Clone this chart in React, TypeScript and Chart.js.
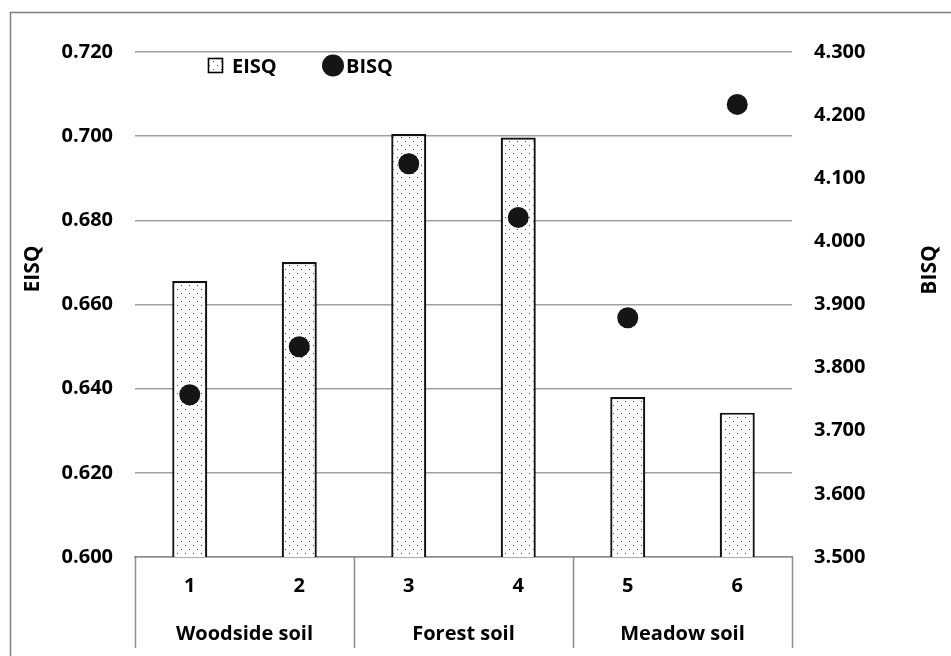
import { useEffect, useRef } from 'react';
import { Chart, registerables } from 'chart.js';

Chart.register(...registerables);

const categories = ['1', '2', '3', '4', '5', '6'];
const eisqValues = [0.6656, 0.6701, 0.7005, 0.6997, 0.638, 0.6343];
const bisqValues = [3.757, 3.833, 4.123, 4.038, 3.879, 4.217];
const groupNames = ['Woodside soil', 'Forest soil', 'Meadow soil'];
const groupSizes = [2, 2, 2];
const eisqTicks = [0.6, 0.62, 0.64, 0.66, 0.68, 0.7, 0.72];
const bisqTicks = [3.5, 3.6, 3.7, 3.8, 3.9, 4.0, 4.1, 4.2, 4.3];
const legendLabels = ['EISQ', 'BISQ'];
const axisTitles = ['EISQ', 'BISQ'];

const FONT = '"Open Sans"';
const W = 951;
const H = 656;

function makePattern(): CanvasPattern | string {
  const c = document.createElement('canvas');
  c.width = 8;
  c.height = 8;
  const g = c.getContext('2d');
  if (!g) return '#fff';
  g.fillStyle = '#ffffff';
  g.fillRect(0, 0, 8, 8);
  g.fillStyle = '#444444';
  g.fillRect(1, 1, 1, 1);
  g.fillRect(5, 5, 1, 1);
  const p = g.createPattern(c, 'repeat');
  return p || '#fff';
}

export default function App() {
  const ref = useRef<HTMLCanvasElement | null>(null);

  useEffect(() => {
    if (!ref.current) return;
    const pattern = makePattern();

    const decor = {
      id: 'decor',
      beforeDraw(chart: any) {
        const ctx = chart.ctx;
        ctx.save();
        ctx.fillStyle = '#ffffff';
        ctx.fillRect(0, 0, W, H);
        ctx.strokeStyle = '#808080';
        ctx.lineWidth = 1.5;
        ctx.beginPath();
        ctx.moveTo(10.5, H);
        ctx.lineTo(10.5, 12.5);
        ctx.lineTo(W, 12.5);
        ctx.stroke();
        ctx.restore();
      },
      afterDraw(chart: any) {
        const { ctx, chartArea, scales } = chart;
        const x = scales.x;
        ctx.save();
        const bounds: number[] = [chartArea.left];
        let idx = 0;
        groupSizes.forEach((s) => {
          idx += s;
          if (idx >= categories.length) bounds.push(chartArea.right);
          else bounds.push((x.getPixelForTick(idx - 1) + x.getPixelForTick(idx)) / 2);
        });
        ctx.strokeStyle = '#8c8c8c';
        ctx.lineWidth = 1.5;
        bounds.forEach((b) => {
          ctx.beginPath();
          ctx.moveTo(Math.round(b) + 0.5, chartArea.bottom);
          ctx.lineTo(Math.round(b) + 0.5, 648);
          ctx.stroke();
        });
        ctx.fillStyle = '#000';
        ctx.font = `bold 20px ${FONT}`;
        ctx.textAlign = 'center';
        ctx.textBaseline = 'alphabetic';
        groupNames.forEach((name, i) => {
          ctx.fillText(name, (bounds[i] + bounds[i + 1]) / 2, 640);
        });
        ctx.font = `bold 21px ${FONT}`;
        ctx.textBaseline = 'middle';
        ctx.save();
        ctx.translate(33, 269);
        ctx.rotate(-Math.PI / 2);
        ctx.fillText(axisTitles[0], 0, 0);
        ctx.restore();
        ctx.save();
        ctx.translate(930, 270);
        ctx.rotate(-Math.PI / 2);
        ctx.fillText(axisTitles[1], 0, 0);
        ctx.restore();
        ctx.fillStyle = pattern as any;
        ctx.fillRect(208, 58, 15, 15);
        ctx.strokeStyle = '#000';
        ctx.lineWidth = 1.6;
        ctx.strokeRect(208.5, 58.5, 14, 14);
        ctx.fillStyle = '#000';
        ctx.font = `bold 20px ${FONT}`;
        ctx.textAlign = 'left';
        ctx.textBaseline = 'alphabetic';
        ctx.fillText(legendLabels[0], 232, 73);
        ctx.fillStyle = '#151515';
        ctx.beginPath();
        ctx.arc(333, 65.5, 11, 0, Math.PI * 2);
        ctx.fill();
        ctx.fillStyle = '#000';
        ctx.fillText(legendLabels[1], 346, 73);
        ctx.restore();
      },
    };

    const tickFont = { family: FONT, size: 20, weight: 'bold' };

    const chart = new Chart(ref.current, {
      type: 'bar',
      data: {
        labels: categories,
        datasets: [
          {
            type: 'bar',
            label: legendLabels[0],
            data: eisqValues,
            yAxisID: 'y',
            backgroundColor: pattern as any,
            borderColor: '#111111',
            borderWidth: 2.2,
            barPercentage: 0.32,
            categoryPercentage: 1,
            order: 1,
          },
          {
            type: 'line',
            label: legendLabels[1],
            data: bisqValues,
            yAxisID: 'y1',
            showLine: false,
            pointRadius: 10.5,
            pointBackgroundColor: '#151515',
            pointBorderColor: '#151515',
            pointBorderWidth: 0,
            order: 0,
          } as any,
        ],
      },
      options: {
        responsive: false,
        animation: false,
        layout: { padding: { top: 52, left: 0, right: 0, bottom: 0 } },
        plugins: {
          legend: { display: false },
          tooltip: { enabled: false },
        },
        scales: {
          x: {
            offset: true,
            grid: { display: false, drawTicks: false },
            border: { display: true, color: '#8c8c8c', width: 1.5 },
            ticks: { color: '#000', font: tickFont, padding: 17 },
            afterFit(scale: any) {
              scale.height = 99;
            },
          },
          y: {
            position: 'left',
            min: 0.6,
            max: 0.72,
            afterBuildTicks(scale: any) {
              scale.ticks = eisqTicks.map((v) => ({ value: v }));
            },
            grid: { color: '#a0a0a0', lineWidth: 1.5, drawTicks: false },
            border: { display: false },
            ticks: {
              color: '#000',
              font: tickFont,
              padding: 22,
              callback: (v: any) => Number(v).toFixed(3),
            },
            afterFit(scale: any) {
              scale.width = 135;
            },
          },
          y1: {
            position: 'right',
            min: 3.5,
            max: 4.3,
            afterBuildTicks(scale: any) {
              scale.ticks = bisqTicks.map((v) => ({ value: v }));
            },
            grid: { display: false, drawTicks: false },
            border: { display: false },
            ticks: {
              color: '#000',
              font: tickFont,
              padding: 22,
              callback: (v: any) => Number(v).toFixed(3),
            },
            afterFit(scale: any) {
              scale.width = 159;
            },
          },
        },
      } as any,
      plugins: [decor],
    });

    return () => chart.destroy();
  }, []);

  return (
    <div style={{ position: 'absolute', left: 0, top: 0, width: W, height: H, overflow: 'hidden', background: '#fff' }}>
      <canvas ref={ref} width={W} height={H} style={{ display: 'block' }} />
    </div>
  );
}
